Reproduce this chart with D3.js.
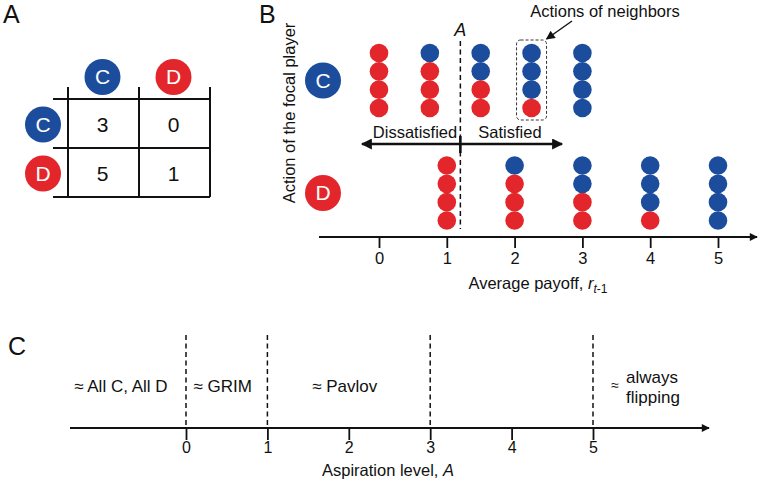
<!DOCTYPE html>
<html><head><meta charset="utf-8">
<script src="https://cdn.jsdelivr.net/npm/d3@7"></script>
<style>
body{margin:0;background:#fff;}
text{font-family:"Liberation Sans",Arial,sans-serif;}
</style></head>
<body><svg id="chart" width="760" height="480"></svg>
<script>
// ---- data ----
const actions = ["C", "D"];
const payoffRowC = [3, 0];           // focal C vs (C, D)
const payoffRowD = [5, 1];           // focal D vs (C, D)
const neighborCoops = [0, 1, 2, 3, 4];           // # cooperating neighbors (of 4)
const avgPayoffC = [0, 0.75, 1.5, 2.25, 3];      // focal C average payoff
const avgPayoffD = [1, 2, 3, 4, 5];              // focal D average payoff
const aspirationB = 1.2;
const highlightIndex = 3;                         // column boxed as "Actions of neighbors"
const payoffTicks = [0, 1, 2, 3, 4, 5];
const thresholds = [0, 1, 3, 5];
const aspirationTicks = [0, 1, 2, 3, 4, 5];
const regimeLabels = ["≈ All C, All D", "≈ GRIM", "≈ Pavlov"];
const regimeAt = [-0.8, 0.45, 1.95];

const BLUE = "#1c4c9c", RED = "#e3262b", INK = "#111";
const FS = 16.5;
const svg = d3.select("#chart");
const colorOf = a => a === "C" ? BLUE : RED;

// arrow markers
const defs = svg.append("defs");
function marker(id, w, h) {
  defs.append("marker").attr("id", id).attr("viewBox", "0 0 10 10")
    .attr("refX", 9).attr("refY", 5).attr("markerWidth", w).attr("markerHeight", h)
    .attr("markerUnits", "userSpaceOnUse").attr("orient", "auto-start-reverse")
    .append("path").attr("d", "M0,0 L10,5 L0,10 Z").attr("fill", INK);
}
marker("ah", 14, 11);
marker("ahs", 11, 9);
marker("ahthin", 10, 8);

function badge(g, x, y, a, r) {
  g.append("circle").attr("cx", x).attr("cy", y).attr("r", r).attr("fill", colorOf(a));
  g.append("text").attr("x", x).attr("y", y + 7).attr("text-anchor", "middle")
    .attr("font-size", 21).attr("fill", "#fff").text(a);
}

// panel letters
[["A", 3, 23], ["B", 259, 23], ["C", 8, 355]].forEach(([t, x, y]) =>
  svg.append("text").attr("x", x).attr("y", y).attr("font-size", 25).attr("fill", INK).text(t));

// ---- Panel A: payoff matrix ----
const gA = svg.append("g");
const colA = d3.scaleBand().domain(actions).range([68, 210]);
const rowA = d3.scaleBand().domain(actions).range([99, 197]);
const matrix = [payoffRowC, payoffRowD];
colA.domain().forEach(a => badge(gA, colA(a) + colA.bandwidth() / 2 - 1, 77, a, 18));
rowA.domain().forEach(a => badge(gA, 43, rowA(a) + rowA.bandwidth() / 2 + 1, a, 18));
[68, 139, 210].forEach(x => gA.append("line").attr("x1", x).attr("x2", x).attr("y1", 87).attr("y2", 197)
  .attr("stroke", INK).attr("stroke-width", 2));
[99, 148, 197].forEach(y => gA.append("line").attr("x1", 53).attr("x2", 210).attr("y1", y).attr("y2", y)
  .attr("stroke", INK).attr("stroke-width", 2));
matrix.forEach((row, i) => row.forEach((v, j) => {
  gA.append("text").attr("x", colA(actions[j]) + colA.bandwidth() / 2 - 1)
    .attr("y", rowA(actions[i]) + rowA.bandwidth() / 2 + 8)
    .attr("text-anchor", "middle").attr("font-size", 21).attr("fill", INK).text(v);
}));

// ---- Panel B ----
const gB = svg.append("g");
const xB = d3.scaleLinear().domain([0, 5]).range([379, 718]);
const axisYB = 237;
gB.append("line").attr("x1", 319).attr("x2", 757).attr("y1", axisYB).attr("y2", axisYB)
  .attr("stroke", INK).attr("stroke-width", 1.8).attr("marker-end", "url(#ahthin)");
const axB = gB.append("g").attr("transform", `translate(0,${axisYB})`)
  .call(d3.axisBottom(xB).tickValues(payoffTicks).tickSize(11).tickPadding(4).tickFormat(d3.format("d")));
axB.select(".domain").remove();
axB.attr("font-size", 16.5).attr("font-family", "Liberation Sans, Arial, sans-serif");
axB.selectAll(".tick line").attr("stroke", INK).attr("stroke-width", 1.8);
axB.selectAll(".tick text").attr("font-size", 16.5).attr("fill", INK);

const xl = gB.append("text").attr("x", 538).attr("y", 289).attr("text-anchor", "middle")
  .attr("font-size", FS).attr("fill", INK);
xl.append("tspan").text("Average payoff, ");
xl.append("tspan").attr("font-style", "italic").text("r");
xl.append("tspan").attr("font-style", "italic").attr("font-size", 12).attr("dy", 4).text("t");
xl.append("tspan").attr("font-size", 12).text("-1");

gB.append("text").attr("transform", "translate(295,113) rotate(-90)").attr("text-anchor", "middle")
  .attr("font-size", FS).attr("fill", INK).text("Action of the focal player");

const rowCenter = { C: 80.5, D: 193 };
const dotY = d3.scaleLinear().domain([0, 3]).range([-27.5, 27.5]);
badge(gB, 323, rowCenter.C, "C", 18);
badge(gB, 323, rowCenter.D, "D", 18);

function dotColumn(focal, payoffs) {
  neighborCoops.forEach((k, ci) => {
    const cells = d3.range(4).map(i => i < k ? "C" : "D");
    gB.selectAll(null).data(cells).enter().append("circle")
      .attr("cx", xB(payoffs[ci])).attr("cy", (d, i) => rowCenter[focal] + dotY(i))
      .attr("r", 9.3).attr("fill", d => colorOf(d));
  });
}
dotColumn("C", avgPayoffC);
dotColumn("D", avgPayoffD);

// aspiration line
const xa = xB(aspirationB);
gB.append("line").attr("x1", xa).attr("x2", xa).attr("y1", 41).attr("y2", 229)
  .attr("stroke", INK).attr("stroke-width", 1.5).attr("stroke-dasharray", "5,3.5");
gB.append("text").attr("x", xa).attr("y", 36).attr("text-anchor", "middle").attr("font-size", 18)
  .attr("font-style", "italic").attr("fill", INK).text("A");

// satisfied/dissatisfied arrow
gB.append("line").attr("x1", 362).attr("x2", 562).attr("y1", 144).attr("y2", 144)
  .attr("stroke", INK).attr("stroke-width", 2.6)
  .attr("marker-start", "url(#ah)").attr("marker-end", "url(#ah)");
gB.append("line").attr("x1", xa).attr("x2", xa).attr("y1", 136).attr("y2", 153)
  .attr("stroke", INK).attr("stroke-width", 2.6);
gB.append("text").attr("x", 415).attr("y", 138).attr("text-anchor", "middle").attr("font-size", 16.5)
  .attr("fill", INK).text("Dissatisfied");
gB.append("text").attr("x", 510).attr("y", 138).attr("text-anchor", "middle").attr("font-size", 16.5)
  .attr("fill", INK).text("Satisfied");

// highlighted neighbors
const hx = xB(avgPayoffC[highlightIndex]);
gB.append("rect").attr("x", hx - 15).attr("y", 40).attr("width", 30).attr("height", 80).attr("rx", 4)
  .attr("fill", "none").attr("stroke", "#333").attr("stroke-width", 1).attr("stroke-dasharray", "3,2");
gB.append("text").attr("x", 605).attr("y", 17).attr("text-anchor", "middle").attr("font-size", FS)
  .attr("fill", INK).text("Actions of neighbors");
gB.append("line").attr("x1", 572).attr("y1", 21).attr("x2", hx + 15).attr("y2", 39)
  .attr("stroke", INK).attr("stroke-width", 1.4).attr("marker-end", "url(#ahs)");

// ---- Panel C ----
const gC = svg.append("g");
const xC = d3.scaleLinear().domain([0, 5]).range([186, 593]);
const axisYC = 428;
gC.append("line").attr("x1", 70).attr("x2", 709).attr("y1", axisYC).attr("y2", axisYC)
  .attr("stroke", INK).attr("stroke-width", 1.8).attr("marker-end", "url(#ahthin)");
const axC = gC.append("g").attr("transform", `translate(0,${axisYC})`)
  .call(d3.axisBottom(xC).tickValues(aspirationTicks).tickSize(12).tickPadding(2).tickFormat(d3.format("d")));
axC.select(".domain").remove();
axC.attr("font-size", 16).attr("font-family", "Liberation Sans, Arial, sans-serif");
axC.selectAll(".tick line").attr("stroke", INK).attr("stroke-width", 1.8);
axC.selectAll(".tick text").attr("font-size", 16).attr("fill", INK);
thresholds.forEach(t => gC.append("line").attr("x1", xC(t)).attr("x2", xC(t)).attr("y1", 335).attr("y2", axisYC)
  .attr("stroke", INK).attr("stroke-width", 1.5).attr("stroke-dasharray", "5,3.5"));
regimeLabels.forEach((t, i) => gC.append("text").attr("x", xC(regimeAt[i])).attr("y", 392)
  .attr("text-anchor", "middle").attr("font-size", 17).attr("fill", INK).text(t));
gC.append("text").attr("x", 615).attr("y", 390).attr("text-anchor", "middle").attr("font-size", 14)
  .attr("fill", INK).text("≈");
gC.append("text").attr("x", 626).attr("y", 383).attr("font-size", 17).attr("fill", INK).text("always");
gC.append("text").attr("x", 626).attr("y", 403).attr("font-size", 17).attr("fill", INK).text("flipping");
const cl = gC.append("text").attr("x", 388).attr("y", 476).attr("text-anchor", "middle")
  .attr("font-size", FS).attr("fill", INK);
cl.append("tspan").text("Aspiration level, ");
cl.append("tspan").attr("font-style", "italic").text("A");
</script></body></html>
